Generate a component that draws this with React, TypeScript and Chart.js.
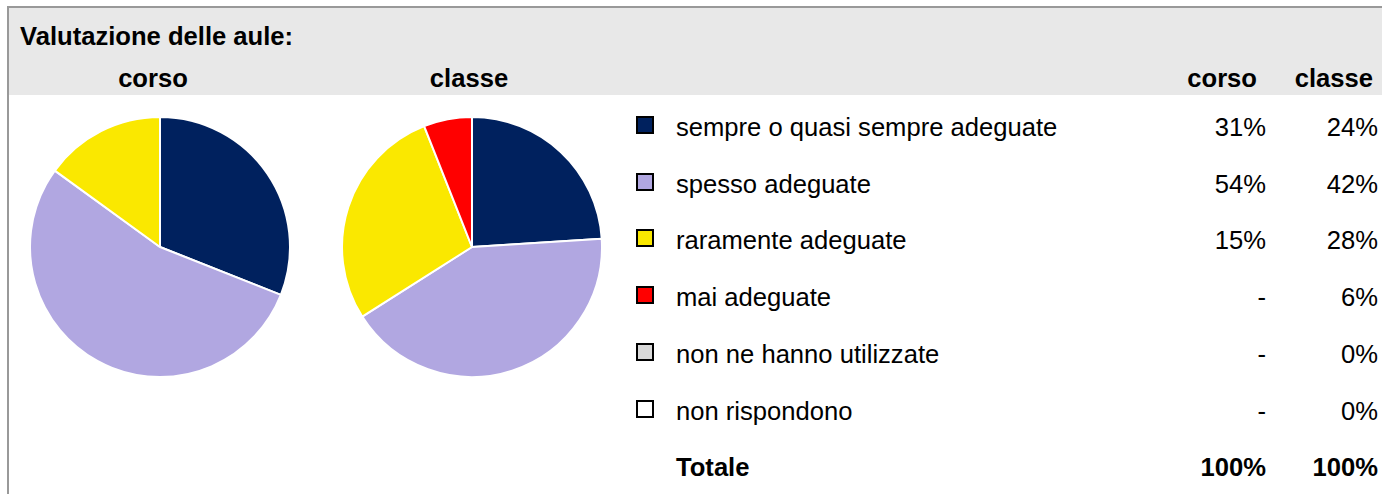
import React, { useEffect, useRef } from "react";
import { Chart, registerables } from "chart.js";

Chart.register(...registerables);

const title = "Valutazione delle aule:";
const pieTitles = ["corso", "classe"];
const categories = [
  "sempre o quasi sempre adeguate",
  "spesso adeguate",
  "raramente adeguate",
  "mai adeguate",
  "non ne hanno utilizzate",
  "non rispondono",
];
const colors = ["#00215E", "#B1A7E1", "#FAE800", "#FF0000", "#D9D9D9", "#FFFFFF"];
const corsoValues: (number | null)[] = [31, 54, 15, null, null, null];
const classeValues: number[] = [24, 42, 28, 6, 0, 0];
const totalLabel = "Totale";
const totals = ["100%", "100%"];

const FONT = "'Liberation Sans', Arial, Helvetica, sans-serif";

function Pie({ values, cx, cy, size }: { values: (number | null)[]; cx: number; cy: number; size: number }) {
  const ref = useRef<HTMLCanvasElement | null>(null);
  useEffect(() => {
    if (!ref.current) return;
    const chart = new Chart(ref.current, {
      type: "pie",
      data: {
        labels: categories,
        datasets: [
          {
            data: values.map((v) => (v == null ? 0 : v)),
            backgroundColor: colors,
            borderColor: "#FFFFFF",
            borderWidth: 2,
            hoverOffset: 0,
            offset: 0,
          },
        ],
      },
      options: {
        responsive: false,
        animation: false,
        layout: { padding: 0 },
        plugins: { legend: { display: false }, tooltip: { enabled: false } },
        events: [],
      },
    });
    return () => chart.destroy();
  }, []);
  return (
    <canvas
      ref={ref}
      width={size}
      height={size}
      style={{ position: "absolute", left: cx - size / 2, top: cy - size / 2, width: size, height: size }}
    />
  );
}

function Text({
  x,
  y,
  text,
  align = "left",
  bold = false,
  size = 25.6,
}: {
  x: number;
  y: number;
  text: string;
  align?: "left" | "right" | "center";
  bold?: boolean;
  size?: number;
}) {
  const w = 500;
  const left = align === "left" ? x : align === "right" ? x - w : x - w / 2;
  return (
    <div
      style={{
        position: "absolute",
        left,
        top: y - 20,
        width: w,
        height: 40,
        lineHeight: "40px",
        textAlign: align,
        fontFamily: FONT,
        fontSize: size,
        fontWeight: bold ? "bold" : "normal",
        color: "#000",
        whiteSpace: "nowrap",
      }}
    >
      {text}
    </div>
  );
}

export default function App() {
  const rowY = [127, 183.5, 240, 297, 354, 410.5, 467];
  const fmt = (v: number | null) => (v == null ? "-" : `${v}%`);
  return (
    <div style={{ position: "absolute", left: 0, top: 0, width: 1382, height: 494, background: "#fff", overflow: "hidden" }}>
      <div style={{ position: "absolute", left: 7, top: 6, width: 1375, height: 2, background: "#999" }} />
      <div style={{ position: "absolute", left: 7, top: 6, width: 2, height: 488, background: "#999" }} />
      <div style={{ position: "absolute", left: 9, top: 8, width: 1373, height: 87, background: "#E8E8E8" }} />
      <Text x={20} y={36} text={title} bold />
      <Text x={153} y={78} text={pieTitles[0]} bold align="center" />
      <Text x={469} y={78} text={pieTitles[1]} bold align="center" />
      <Text x={1257} y={78} text={pieTitles[0]} bold align="right" />
      <Text x={1373} y={78} text={pieTitles[1]} bold align="right" />
      <Pie values={corsoValues} cx={160} cy={247} size={262} />
      <Pie values={classeValues} cx={472} cy={247} size={262} />
      {categories.map((c, i) => (
        <React.Fragment key={c}>
          <div
            style={{
              position: "absolute",
              left: 636,
              top: rowY[i] - 11,
              width: 14,
              height: 14,
              background: colors[i],
              border: "2px solid #000",
            }}
          />
          <Text x={676} y={rowY[i]} text={c} />
          <Text x={1266} y={rowY[i]} text={fmt(corsoValues[i])} align="right" />
          <Text x={1378} y={rowY[i]} text={fmt(classeValues[i])} align="right" />
        </React.Fragment>
      ))}
      <Text x={676} y={rowY[6]} text={totalLabel} bold />
      <Text x={1266} y={rowY[6]} text={totals[0]} bold align="right" />
      <Text x={1378} y={rowY[6]} text={totals[1]} bold align="right" />
    </div>
  );
}
